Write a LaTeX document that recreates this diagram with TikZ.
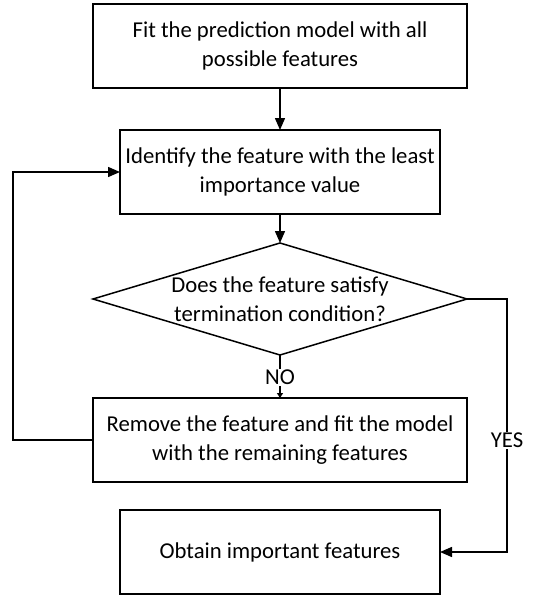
\documentclass[tikz,border=0pt]{standalone}
\usepackage{fontspec}
\setmainfont{Carlito}
\usetikzlibrary{positioning,shapes.geometric,arrows.meta}
\tikzstyle{cfont} = [font=\fontsize{22.7}{29}\selectfont]
\tikzstyle{cbox}  = [cfont, draw, line width=1.5pt, minimum width=374pt, minimum height=84pt, inner sep=0pt, outer sep=0pt, align=center]
\tikzstyle{cboxs} = [cbox, minimum width=320pt]
\tikzstyle{cdec}  = [draw, diamond, line width=1.5pt, minimum width=374pt, minimum height=112pt, inner sep=0pt, outer sep=0pt]
\tikzstyle{cflow} = [-{Triangle[length=12pt,width=10pt]}, line width=1.5pt]
\tikzstyle{clab}  = [cfont, fill=white, inner sep=1pt]

\begin{document}
\begin{tikzpicture}[x=1pt,y=1pt]
      \useasboundingbox (0,0) rectangle (551,-595);
      \node[cbox]  (fit) at (280,-46) {Fit the prediction model with all\\possible features};
      \node[cboxs] (ident)  [below=42pt of fit]   {Identify the feature with the least\\importance value};
      \node[cdec]  (cond)   [below=29pt of ident] {};
      \node[cfont, align=center] (condtext) at (cond) {Does the feature satisfy\\termination condition?};
      \node[cbox]  (remove) [below=43pt of cond]  {Remove the feature and fit the model\\with the remaining features};
      \node[cboxs] (obtain) [below=28pt of remove] {Obtain important features};
      % main flow
      \draw[cflow] (fit) -- (ident);
      \draw[cflow] (ident) -- (cond);
      \draw[-{Triangle[length=5pt,width=6pt]}, line width=1.5pt] (cond.south) -- node[clab, pos=0.52] {NO} (remove.north);
      % loop back
      \draw[cflow] (remove.west) -- ++(-80,0) |- (ident.west);
      % exit
      \draw[cflow] (cond.east) -- ++(40,0) |- node[clab, pos=0.28] {YES} (obtain.east);
    \end{tikzpicture}
\end{document}
